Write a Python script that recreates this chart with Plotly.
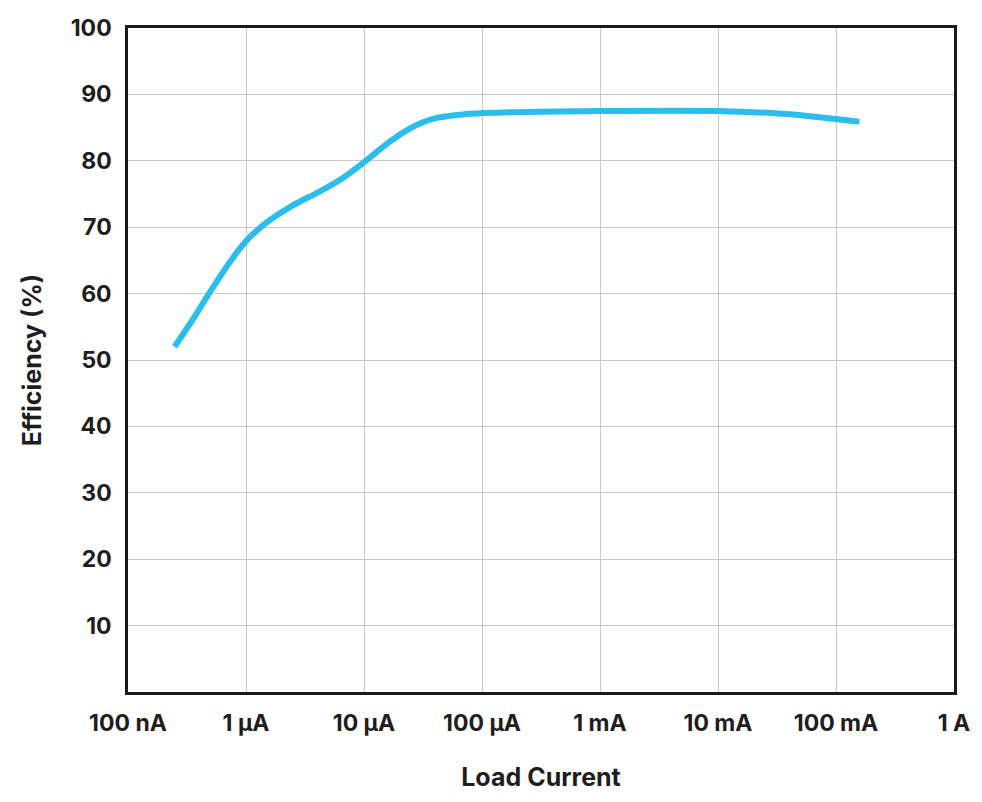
import plotly.graph_objects as go

# load current (A) and efficiency (%)
load_current = [2.48e-7, 3.54e-7, 4.9e-7, 7.21e-7, 1.0e-6, 1.47e-6, 2.45e-6,
                4.12e-6, 6.46e-6, 1.02e-5, 1.6e-5, 2.21e-5, 3.05e-5,
                4.21e-5, 7.06e-5, 1.35e-4, 3.09e-4, 9.9e-4, 9.84e-3, 3.05e-2,
                5.77e-2, 1.58e-1]
efficiency = [52.0, 56.1, 60.1, 64.6, 67.9, 70.6, 73.2,
              75.3, 77.3, 79.9, 82.7, 84.4, 85.7,
              86.5, 87.0, 87.25, 87.4, 87.5, 87.5, 87.15,
              86.75, 85.9]

x_tickvals = [1e-7, 1e-6, 1e-5, 1e-4, 1e-3, 1e-2, 1e-1, 1]
x_ticktext = ["100 nA", "1 µA", "10 µA", "100 µA", "1 mA", "10 mA", "100 mA", "1 A"]
y_tickvals = [10, 20, 30, 40, 50, 60, 70, 80, 90, 100]

font_family = "Inter, Roboto, sans-serif"
text_color = "#1e1e1e"

fig = go.Figure()
fig.add_trace(go.Scatter(
    x=load_current, y=efficiency, mode="lines",
    line=dict(color="#2BBDEB", width=6, shape="spline", smoothing=1.0),
    showlegend=False,
))

fig.update_layout(
    width=982, height=802,
    margin=dict(l=128, r=22, t=28, b=110),
    paper_bgcolor="white", plot_bgcolor="white",
    font=dict(family=font_family, color=text_color),
    xaxis=dict(
        type="log", range=[-7, 0],
        tickvals=x_tickvals, ticktext=x_ticktext,
        tickfont=dict(size=23, family=font_family, weight="bold"),
        ticklabeloverflow="allow",
        showgrid=True, gridcolor="#c8c8c8", gridwidth=1,
        showline=True, linecolor="#1a1a1a", linewidth=2.5, mirror=True,
        ticks="", ticklabelstandoff=9,
        title=dict(text="Load Current", standoff=33,
                   font=dict(size=25, family=font_family, weight="bold")),
        zeroline=False,
    ),
    yaxis=dict(
        range=[0, 100],
        tickvals=y_tickvals,
        tickfont=dict(size=23, family=font_family, weight="bold"),
        showgrid=True, gridcolor="#c8c8c8", gridwidth=1,
        showline=True, linecolor="#1a1a1a", linewidth=2.5, mirror=True,
        ticks="", ticklabelstandoff=9,
        title=dict(text="Efficiency (%)", standoff=22,
                   font=dict(size=25, family=font_family, weight="bold")),
        zeroline=False,
    ),
)

# drop the default body margin so the 982x802 figure fills the window exactly
fig.write_html("out.html",
               config={"displayModeBar": False},
               post_script="document.body.style.margin='0';"
                           "document.body.style.overflow='hidden';")
